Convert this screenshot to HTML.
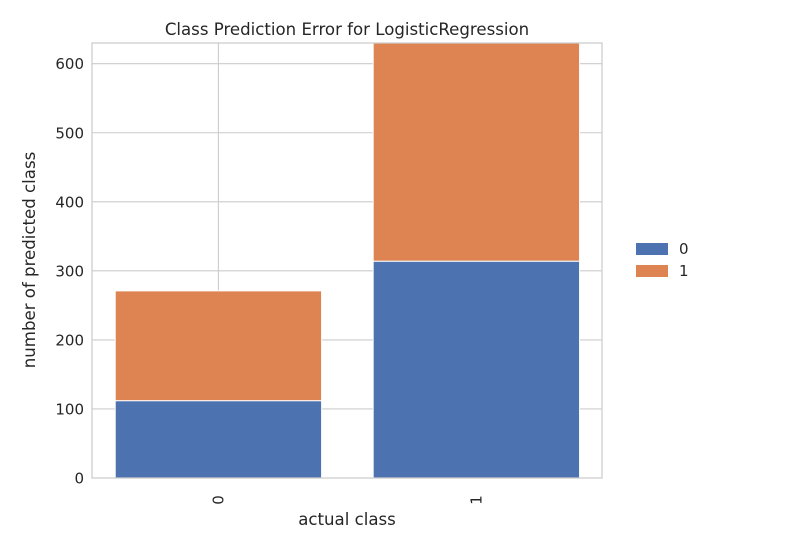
<!DOCTYPE html>
<html><head><meta charset="utf-8"><style>
body{margin:0;background:#fff;}
svg{display:block;font-family:"DejaVu Sans","Liberation Sans",sans-serif;}
</style></head><body>
<svg id="chart" width="800" height="550">
<rect width="800" height="550" fill="#fff"/>
<text x="347" y="35" font-size="16.6" fill="#262626" text-anchor="middle">Class Prediction Error for LogisticRegression</text>
<g id="grid"></g>
<g id="bars"></g>
<rect x="92" y="43" width="510" height="435" fill="none" stroke="#cccccc" stroke-width="1.25"/>
<g id="yticks"></g>
<g id="xticks"></g>
<text x="347" y="525" font-size="16.6" fill="#262626" text-anchor="middle">actual class</text>
<text transform="translate(35,260) rotate(-90)" font-size="16.6" fill="#262626" text-anchor="middle">number of predicted class</text>
<g>
<rect x="636" y="243" width="32" height="12" fill="#4c72b0"/>
<text x="679" y="254" font-size="15" fill="#262626">0</text>
<rect x="636" y="265" width="32" height="12" fill="#dd8452"/>
<text x="679" y="276" font-size="15" fill="#262626">1</text>
</g>
</svg>
<script>
const categories = ["0", "1"];
const predicted0 = [112, 314];
const predicted1 = [159, 316];
const yTicks = [0, 100, 200, 300, 400, 500, 600];
const ns = "http://www.w3.org/2000/svg";
const X0 = 92, X1 = 602, Y0 = 478, Y1 = 43;
const xMin = -0.49, xMax = 1.487;
const totals = categories.map((c, i) => predicted0[i] + predicted1[i]);
const yMax = Math.max(...totals);
const ys = v => Y0 - (v / yMax) * (Y0 - Y1);
const unit = (X1 - X0) / (xMax - xMin);
const xc = i => X0 + (i - xMin) * unit;
const bw = unit * 0.8;
function mk(tag, attrs, parent) {
  const el = document.createElementNS(ns, tag);
  for (const k in attrs) el.setAttribute(k, attrs[k]);
  document.getElementById(parent).appendChild(el);
  return el;
}
yTicks.forEach(t => {
  const g = mk("line", {x1: X0, x2: X1, y1: ys(t), y2: ys(t), stroke: "#cccccc", "stroke-width": 1.1}, "grid");
  
  
  const l = mk("text", {x: X0 - 8, y: ys(t) + 5.5, "font-size": 15, fill: "#262626", "text-anchor": "end"}, "yticks");
  l.textContent = t;
  
  
});
categories.forEach((c, i) => {
  const g = mk("line", {x1: xc(i), x2: xc(i), y1: Y1, y2: Y0, stroke: "#cccccc", "stroke-width": 1.1}, "grid");
  
  
  const b0 = mk("rect", {x: xc(i) - bw / 2, y: ys(predicted0[i]), width: bw, height: Y0 - ys(predicted0[i]), fill: "#4c72b0", stroke: "#fff", "stroke-width": 1}, "bars");
  
  
  const top = predicted0[i] + predicted1[i];
  const b1 = mk("rect", {x: xc(i) - bw / 2, y: ys(top), width: bw, height: ys(predicted0[i]) - ys(top), fill: "#dd8452", stroke: "#fff", "stroke-width": 1}, "bars");
  
  
  const l = mk("text", {transform: `translate(${xc(i) + 5},500) rotate(-90)`, "font-size": 15, fill: "#262626", "text-anchor": "middle"}, "xticks");
  l.textContent = c;
  
  
});
</script>
</body></html>
